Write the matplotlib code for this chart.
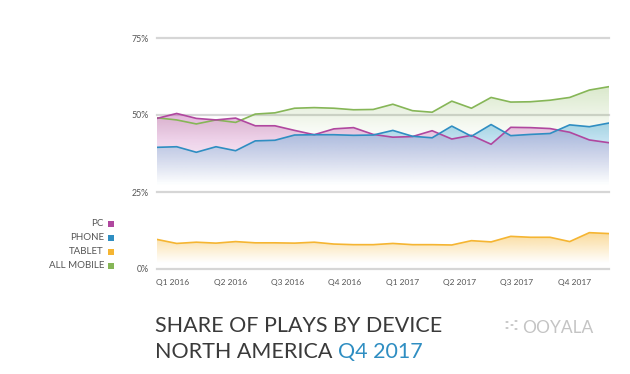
import matplotlib.pyplot as plt
import numpy as np
from matplotlib.patches import Circle, Rectangle

# monthly share of plays (%), Jan 2016 .. Dec 2017
pc = [48.9, 50.5, 48.9, 48.4, 49.0, 46.5, 46.5, 45.0, 43.6, 45.5, 45.9, 43.7,
      42.8, 43.0, 44.9, 42.2, 43.4, 40.5, 46.0, 45.9, 45.6, 44.4, 41.9, 41.0]
phone = [39.5, 39.7, 37.9, 39.7, 38.4, 41.6, 41.8, 43.5, 43.6, 43.6, 43.4, 43.5,
         45.0, 43.1, 42.6, 46.4, 43.1, 46.9, 43.3, 43.7, 44.0, 46.8, 46.2, 47.4]
tablet = [9.6, 8.3, 8.7, 8.4, 8.9, 8.5, 8.5, 8.4, 8.7, 8.1, 7.9, 7.9,
          8.3, 7.9, 7.9, 7.8, 9.2, 8.8, 10.6, 10.3, 10.3, 8.9, 11.8, 11.5]
all_mobile = [49.1, 48.4, 47.1, 48.4, 47.6, 50.3, 50.7, 52.2, 52.4, 52.2, 51.7, 51.8,
              53.5, 51.4, 50.9, 54.5, 52.2, 55.7, 54.2, 54.3, 54.8, 55.7, 58.1, 59.2]

quarters = ["Q1 2016", "Q2 2016", "Q3 2016", "Q4 2016",
            "Q1 2017", "Q2 2017", "Q3 2017", "Q4 2017"]
y_ticks = [0, 25, 50, 75]

legend_labels = ["PC", "PHONE", "TABLET", "ALL MOBILE"]

PC_COLOR = "#b0479f"
PHONE_COLOR = "#2f8ec2"
TABLET_COLOR = "#f5b532"
MOBILE_COLOR = "#86b657"
FONT = ["Lato", "DejaVu Sans"]


def gradient_fill(axis, x, y, color, alpha_top, y_bottom, zorder):
    """Fill under a line with a colour fading out downwards."""
    y = np.asarray(y)
    top = y.max()
    n = 200
    rgba = np.zeros((n, 1, 4))
    rgba[:, 0, :3] = plt.matplotlib.colors.to_rgb(color)
    rgba[:, 0, 3] = np.linspace(0, alpha_top, n)
    poly = axis.fill_between(x, y, 0, color="none", lw=0)
    img = axis.imshow(rgba, extent=[x[0], x[-1], y_bottom, top], origin="lower",
                      aspect="auto", zorder=zorder, interpolation="bilinear")
    img.set_clip_path(poly.get_paths()[0], transform=axis.transData)


def main():
    fig = plt.figure(figsize=(6.3, 3.74), dpi=100)
    fig.set_facecolor("white")
    axis = fig.add_axes([157 / 630, 105 / 374, 452 / 630, 231 / 374])
    x = np.arange(len(pc))

    for val in y_ticks:
        axis.axhline(val, color="#d6d6d6", lw=1.6, zorder=1, clip_on=False)

    gradient_fill(axis, x, all_mobile, MOBILE_COLOR, 0.3, 42, 2)
    gradient_fill(axis, x, pc, "#c25cb0", 0.45, 28, 3)
    gradient_fill(axis, x, phone, "#3aa3d2", 0.42, 27, 4)
    gradient_fill(axis, x, tablet, TABLET_COLOR, 0.5, 2, 2)

    axis.plot(x, all_mobile, color=MOBILE_COLOR, lw=1.2, zorder=6)
    axis.plot(x, pc, color=PC_COLOR, lw=1.2, zorder=6)
    axis.plot(x, phone, color=PHONE_COLOR, lw=1.2, zorder=7)
    axis.plot(x, tablet, color=TABLET_COLOR, lw=1.2, zorder=6)

    axis.set_xlim(0, 23)
    axis.set_ylim(0, 75)
    for spine in axis.spines.values():
        spine.set_visible(False)
    axis.set_yticks(y_ticks)
    axis.set_yticklabels([f"{v}%" for v in y_ticks], fontsize=6.3,
                         color="#555555", family=FONT)
    axis.set_xticks(0.8 + np.arange(len(quarters)) * 2.92)
    axis.set_xticklabels(quarters, fontsize=6, color="#555555", family=FONT)
    axis.tick_params(length=0, pad=7)
    axis.tick_params(axis="y", pad=6)

    # legend on the left
    colors = [PC_COLOR, PHONE_COLOR, TABLET_COLOR, MOBILE_COLOR]
    for i, (label, col) in enumerate(zip(legend_labels, colors)):
        ypix = 224 + i * 14
        fig.text(104 / 630, 1 - ypix / 374, label, ha="right", va="center",
                 fontsize=7, color="#555555", family=FONT)
        fig.add_artist(Rectangle((108 / 630, 1 - (ypix + 3) / 374), 6 / 630, 6 / 374,
                                 transform=fig.transFigure, color=col, lw=0))

    # title
    fig.text(155 / 630, 1 - 332 / 374, "SHARE OF PLAYS BY DEVICE", fontsize=15.5,
             color="#3a3a3a", family=FONT, va="baseline")
    title2 = fig.text(155 / 630, 1 - 358 / 374, "NORTH AMERICA ", fontsize=15.5,
                      color="#3a3a3a", family=FONT, va="baseline")
    fig.canvas.draw()
    bbox = title2.get_window_extent()
    fig.text(bbox.x1 / 630, 1 - 358 / 374, "Q4 2017", fontsize=15.5,
             color=PHONE_COLOR, family=FONT, va="baseline")

    # logo
    fig.text(522 / 630, 1 - 333 / 374, "OOYALA", fontsize=12.5, color="#c4c4c4",
             family=FONT, va="baseline")
    for dx, dy in [(507, 322), (512, 325), (507, 328), (516, 321), (516, 329)]:
        fig.add_artist(Circle((dx / 630, 1 - dy / 374), 1.6 / 630,
                              transform=fig.transFigure, color="#c4c4c4", lw=0))

    fig.savefig("out.png", dpi=100, facecolor="white")


if __name__ == "__main__":
    main()
